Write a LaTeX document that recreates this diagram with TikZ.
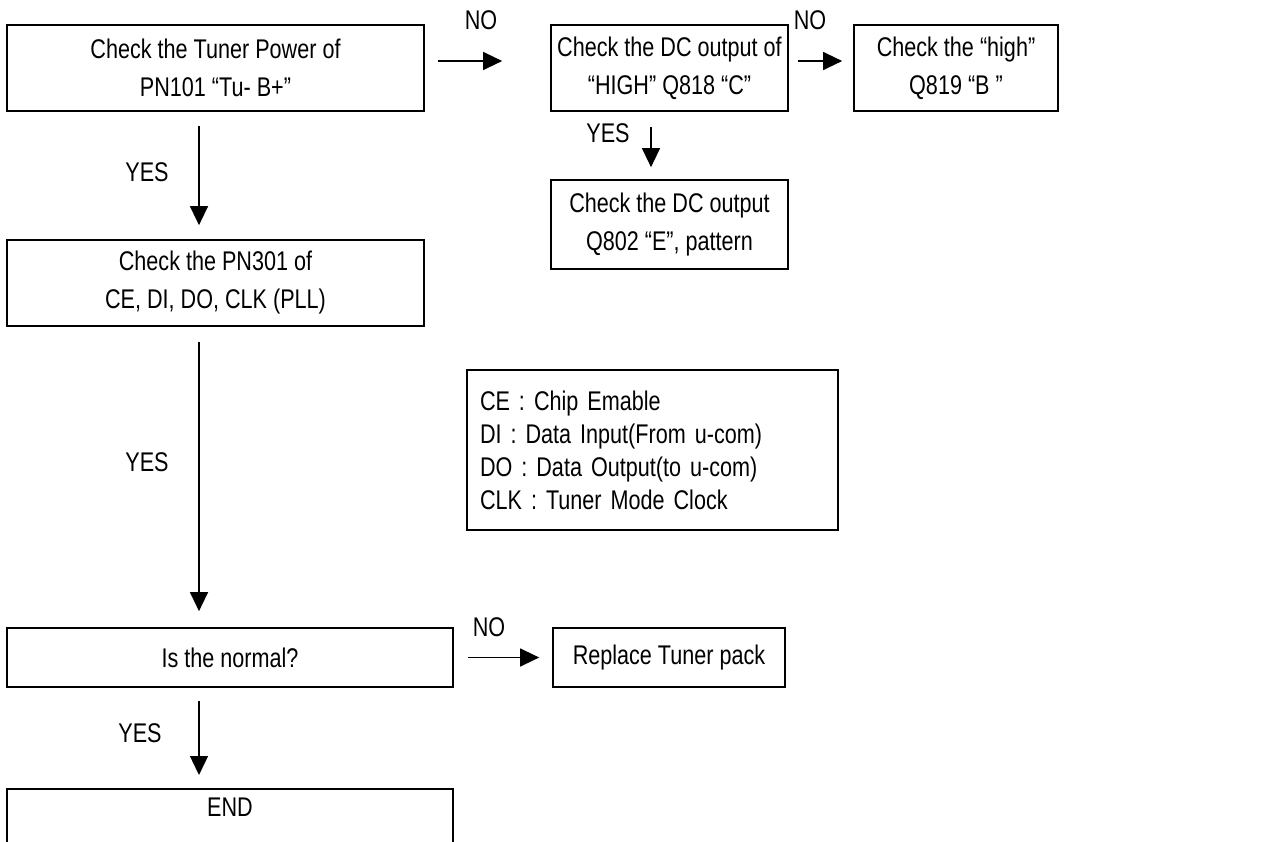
\documentclass[tikz,border=0pt]{standalone}
\usepackage{fontspec}
\setmainfont[FakeStretch=0.8]{Liberation Sans}
\usetikzlibrary{arrows.meta}
\begin{document}
\begin{tikzpicture}[x=1pt,y=-1pt,
  box/.style={draw=black, line width=1.7pt, align=center, inner sep=0pt,
    font=\fontsize{27}{38}\selectfont},
  lbl/.style={font=\fontsize{27}{30}\selectfont, inner sep=0pt},
  arr/.style={line width=1.3pt, -{Triangle[length=19pt,width=18pt]}},
]
\clip (0,0) rectangle (1279,842);
\fill[white] (0,0) rectangle (1279,842);

\coordinate (xL) at (199,0);
\coordinate (xM) at (651,0);
\coordinate (yT) at (0,61);

\node[box, minimum width=417pt, minimum height=86pt] (b1) at (215.5,68) {Check the Tuner Power of\\PN101 “Tu- B+”};
\node[box, minimum width=237pt, minimum height=86pt] (b2) at (669.5,68) {Check the DC output of\\“HIGH” Q818 “C”};
\node[box, minimum width=204pt, minimum height=86pt] (b3) at (956,68) {Check the “high”\\Q819 “B ”};
\node[box, minimum width=237pt, minimum height=89pt] (b4) at (669.5,224.5) {Check the DC output\\Q802 “E”, pattern};
\node[box, minimum width=417pt, minimum height=86pt] (b5) at (215.5,283) {Check the PN301 of\\CE, DI, DO, CLK (PLL)};
\node[box, minimum width=371pt, minimum height=160pt, align=left, text width=345pt,
  inner xsep=13pt, font=\fontsize{27}{33}\selectfont] (lg) at (652.5,450)
  {CE : Chip Emable\\DI : Data Input(From u-com)\\DO : Data Output(to u-com)\\CLK : Tuner Mode Clock};
\node[box, minimum width=446pt, minimum height=59pt] (b6) at (230,657.5) {Is the normal?};
\node[box, minimum width=232pt, minimum height=59pt] (b7) at (669,657.5) {Replace Tuner pack};
\node[box, minimum width=446pt, text height=28pt, text depth=80pt, anchor=north] (e) at (230,788) {END};

\draw[arr, shorten <=13pt, shorten >=48pt] (b1.east |- yT) -- (b2.west |- yT);
\draw[arr, shorten <=9pt, shorten >=11pt] (b2.east |- yT) -- (b3.west |- yT);
\draw[arr, shorten <=15pt, shorten >=12pt] (b2.south -| xM) -- (b4.north -| xM);
\draw[arr, shorten <=14pt, shorten >=14pt] (b1.south -| xL) -- (b5.north -| xL);
\draw[arr, shorten <=15pt, shorten >=16pt] (b5.south -| xL) -- (b6.north -| xL);
\draw[arr, shorten <=14pt, shorten >=13pt] (b6.east) -- (b7.west);
\draw[arr, shorten <=13pt, shorten >=13pt] (b6.south -| xL) -- (e.north -| xL);

\node[lbl] (no1) at (481,20) {NO};
\node[lbl] (no2) at (810,20) {NO};
\node[lbl] (no3) at (489,627) {NO};
\node[lbl] (yes1) at (608,133) {YES};
\node[lbl] (yes2) at (147,172) {YES};
\node[lbl] (yes3) at (147,462) {YES};
\node[lbl] (yes4) at (140,733) {YES};
\end{tikzpicture}
\end{document}
